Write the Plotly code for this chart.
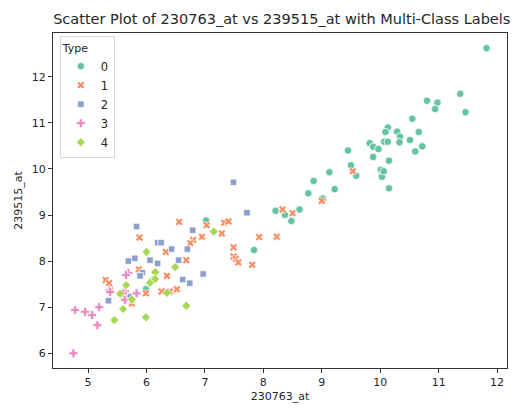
import plotly.graph_objects as go

# Type 0
x0 = [11.82, 11.37, 11.46, 10.80, 10.98, 10.94, 10.55, 10.13, 10.09, 10.29, 10.34, 10.33, 10.66, 10.51,
      10.72, 10.60, 10.07, 10.13, 9.82, 9.88, 9.97, 9.88, 10.15, 10.01, 10.04, 10.03, 9.45, 9.50, 9.59,
      10.06, 10.15, 9.13, 8.86, 9.22, 8.77, 9.02, 8.62, 8.21, 8.37, 8.48, 7.84, 7.02, 5.99]
y0 = [12.62, 11.63, 11.23, 11.48, 11.44, 11.30, 11.09, 10.90, 10.80, 10.81, 10.70, 10.58, 10.80, 10.63,
      10.49, 10.38, 10.59, 10.59, 10.56, 10.48, 10.43, 10.26, 10.18, 9.98, 9.89, 9.83, 10.40, 10.08, 9.85,
      9.95, 9.58, 9.93, 9.74, 9.56, 9.47, 9.36, 9.12, 9.09, 9.00, 8.87, 8.24, 8.88, 7.39]
# Type 1
x1 = [9.53, 9.00, 8.33, 8.50, 7.93, 8.23, 7.49, 7.49, 7.53, 7.57, 7.81, 7.33, 7.40, 6.56, 7.03, 5.88,
      7.29, 6.95, 6.80, 6.75, 6.33, 6.68, 5.87, 6.35, 5.30, 5.36, 5.38, 5.99, 6.26, 6.40, 6.52, 5.75]
y1 = [9.95, 9.31, 9.12, 9.04, 8.52, 8.53, 8.30, 8.10, 8.05, 7.97, 7.92, 8.83, 8.86, 8.85, 8.78, 8.51,
      8.60, 8.53, 8.46, 8.39, 8.20, 8.02, 7.82, 7.68, 7.59, 7.52, 7.37, 7.30, 7.34, 7.34, 7.39, 7.08]
# Type 2
x2 = [7.49, 7.72, 5.83, 6.79, 6.19, 6.25, 6.43, 6.70, 5.80, 5.69, 6.06, 6.19, 6.55, 5.93, 5.89, 6.97,
      6.62, 6.74, 5.35, 5.72]
y2 = [9.71, 9.05, 8.75, 8.67, 8.40, 8.40, 8.26, 8.26, 8.06, 8.00, 8.02, 7.95, 8.02, 7.75, 7.68, 7.72,
      7.60, 7.52, 7.14, 7.23]
# Type 3
x3 = [5.69, 5.65, 5.36, 5.38, 5.63, 5.60, 5.83, 5.63, 4.78, 4.95, 5.07, 5.19, 5.16, 4.75]
y3 = [7.74, 7.70, 7.36, 7.33, 7.34, 7.30, 7.30, 7.16, 6.94, 6.90, 6.83, 7.00, 6.61, 6.00]
# Type 4
x4 = [7.15, 6.00, 6.49, 6.15, 6.10, 6.06, 6.15, 5.65, 5.55, 5.75, 6.35, 5.60, 6.68, 5.45, 5.99]
y4 = [8.64, 8.20, 7.87, 7.76, 7.59, 7.53, 7.61, 7.48, 7.29, 7.17, 7.31, 6.96, 7.03, 6.72, 6.78]

types = ["0", "1", "2", "3", "4"]
xs = [x0, x1, x2, x3, x4]
ys = [y0, y1, y2, y3, y4]
colors = ["#66c2a5", "#fc8d62", "#8da0cb", "#e78ac3", "#a6d854"]
symbols = ["circle", "x", "square", "cross", "diamond"]
sizes = [7.5, 7, 6.5, 7.5, 7]

x_ticks = [5, 6, 7, 8, 9, 10, 11, 12]
y_ticks = [6, 7, 8, 9, 10, 11, 12]

fig = go.Figure()
for t, xv, yv, c, s, sz in zip(types, xs, ys, colors, symbols, sizes):
    fig.add_trace(go.Scatter(
        x=xv, y=yv, mode="markers", name=t,
        marker=dict(color=c, symbol=s, size=sz, line=dict(color="white", width=0.8)),
    ))

font = "DejaVu Sans"
fig.update_layout(
    width=517, height=410,
    margin=dict(l=53, r=10, t=33, b=42),
    paper_bgcolor="white", plot_bgcolor="white",
    font=dict(family=font, size=11, color="#262626"),
    title=dict(text="Scatter Plot of 230763_at vs 239515_at with Multi-Class Labels",
               x=0.545, xanchor="center", y=0.955, yanchor="middle",
               font=dict(family=font, size=14.5, color="#262626")),
    legend=dict(title=dict(text="Type", font=dict(size=11)),
                x=0.015, y=0.99, xanchor="left", yanchor="top",
                bgcolor="rgba(255,255,255,0.8)", bordercolor="#d9d9d9", borderwidth=1,
                font=dict(size=11.5), tracegroupgap=0, itemsizing="trace",
                entrywidth=42, entrywidthmode="pixels"),
    showlegend=True,
)
fig.update_xaxes(range=[4.40, 12.17], tickvals=x_ticks, showgrid=False, zeroline=False,
                 showline=True, linecolor="#333333", linewidth=1, mirror=True,
                 ticks="outside", ticklen=4, tickcolor="#333333",
                 title=dict(text="230763_at", standoff=4, font=dict(size=11)))
fig.update_yaxes(range=[5.68, 12.95], tickvals=y_ticks, showgrid=False, zeroline=False,
                 showline=True, linecolor="#333333", linewidth=1, mirror=True,
                 ticks="outside", ticklen=4, tickcolor="#333333",
                 title=dict(text="239515_at", standoff=6, font=dict(size=11)))

fig.write_html("out.html")
